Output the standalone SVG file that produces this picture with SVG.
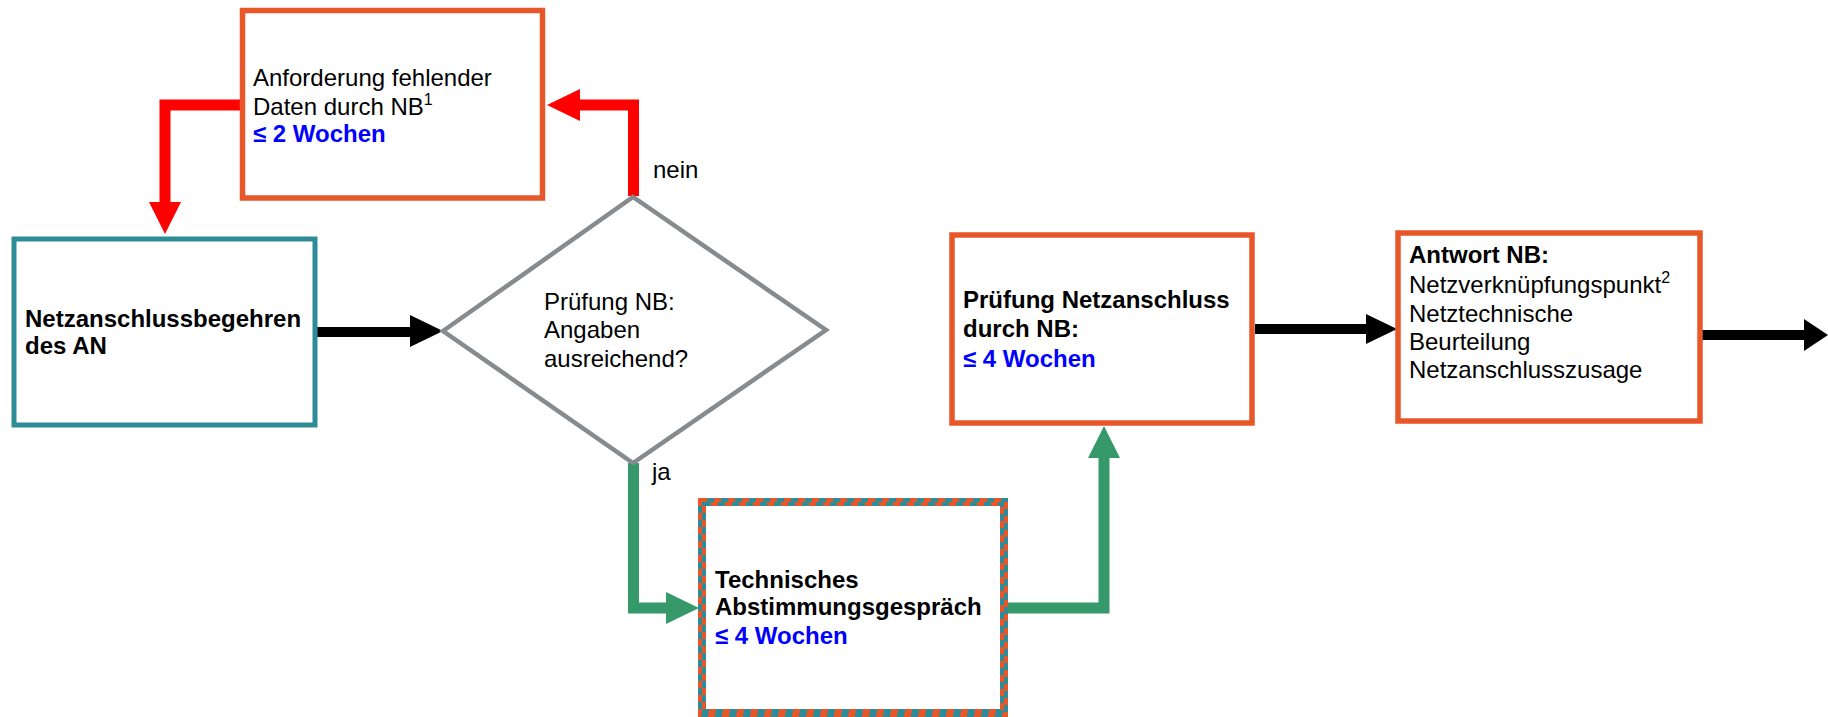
<svg xmlns="http://www.w3.org/2000/svg" width="1828" height="717" viewBox="0 0 1828 717">
<style>
text{font-family:"Liberation Sans",Arial,Helvetica,sans-serif;font-size:24px;fill:#000}
.b{font-weight:bold}
.blue{font-weight:bold;fill:#0000FF}
.sup{font-size:16px}
.obox{fill:#fff;stroke:#E8572A;stroke-width:5.5}
.tbox{fill:#fff;stroke:#2E8B98;stroke-width:5}
.dia{fill:#fff;stroke:#878B8E;stroke-width:4.5;stroke-linejoin:miter}
.blk{fill:none;stroke:#000}
.red{fill:none;stroke:#FF0000;stroke-width:11;stroke-linejoin:miter}
.grn{fill:none;stroke:#36996A;stroke-width:11;stroke-linejoin:miter}
</style>
<rect width="1828" height="717" fill="#fff"/>
<g id="connectors">
  <line class="blk" x1="317" y1="332" x2="412" y2="332" stroke-width="10"/>
  <polygon points="410,315 443,331 410,347" fill="#000"/>
  <polyline class="red" points="633.5,196 633.5,105 580,105"/>
  <polygon points="580,89 547,105 580,121" fill="#FF0000"/>
  <polyline class="red" points="242,105 165,105 165,203"/>
  <polygon points="149,202 165,234 181,202" fill="#FF0000"/>
  <polyline class="grn" points="633.5,463 633.5,608 667,608"/>
  <polygon points="666,592 699,608 666,624" fill="#36996A"/>
  <polyline class="grn" points="1008,608 1104,608 1104,457"/>
  <polygon points="1088,458 1104,426 1120,458" fill="#36996A"/>
  <line class="blk" x1="1255" y1="329" x2="1367" y2="329" stroke-width="10"/>
  <polygon points="1366,314 1397,329 1366,344" fill="#000"/>
  <line class="blk" x1="1702" y1="335" x2="1805" y2="335" stroke-width="10"/>
  <polygon points="1804,319 1828,335 1804,351" fill="#000"/>
</g>
<g id="n_anforderung">
  <rect class="obox" x="242.5" y="10.5" width="300" height="187.5"/>
  <text x="253" y="86">Anforderung fehlender</text>
  <text x="253" y="115">Daten durch NB<tspan class="sup" dy="-10">1</tspan></text>
  <text class="blue" x="253" y="142">≤ 2 Wochen</text>
</g>
<g id="n_begehren">
  <rect class="tbox" x="14" y="239" width="301" height="186"/>
  <text class="b" x="25" y="327">Netzanschlussbegehren</text>
  <text class="b" x="25" y="354">des AN</text>
</g>
<g id="n_pruefung_nb">
  <polygon class="dia" points="443,331 633,197 826,330 633,463"/>
  <text x="544" y="310">Prüfung NB:</text>
  <text x="544" y="338">Angaben</text>
  <text x="544" y="367">ausreichend?</text>
</g>
<g id="labels">
  <text x="653" y="178">nein</text>
  <text x="652" y="480">ja</text>
</g>
<g id="n_abstimmung">
  <rect x="702" y="502" width="302" height="211" fill="#fff" stroke="#2E8B98" stroke-width="8"/>
  <rect x="700" y="500" width="306" height="215" fill="none" stroke="#E8572A" stroke-width="4" stroke-dasharray="7 7"/>
  <rect x="704" y="504" width="298" height="207" fill="none" stroke="#E8572A" stroke-width="4" stroke-dasharray="7 7" stroke-dashoffset="7"/>
  <text class="b" x="715" y="588">Technisches</text>
  <text class="b" x="715" y="615">Abstimmungsgespräch</text>
  <text class="blue" x="715" y="644">≤ 4 Wochen</text>
</g>
<g id="n_pruefung_netz">
  <rect class="obox" x="952" y="235" width="300" height="188"/>
  <text class="b" x="963" y="308">Prüfung Netzanschluss</text>
  <text class="b" x="963" y="337">durch NB:</text>
  <text class="blue" x="963" y="367">≤ 4 Wochen</text>
</g>
<g id="n_antwort">
  <rect class="obox" x="1398" y="233" width="302" height="188"/>
  <text class="b" x="1409" y="263">Antwort NB:</text>
  <text x="1409" y="293">Netzverknüpfungspunkt<tspan class="sup" dy="-10">2</tspan></text>
  <text x="1409" y="322">Netztechnische</text>
  <text x="1409" y="350">Beurteilung</text>
  <text x="1409" y="378">Netzanschlusszusage</text>
</g>
</svg>
